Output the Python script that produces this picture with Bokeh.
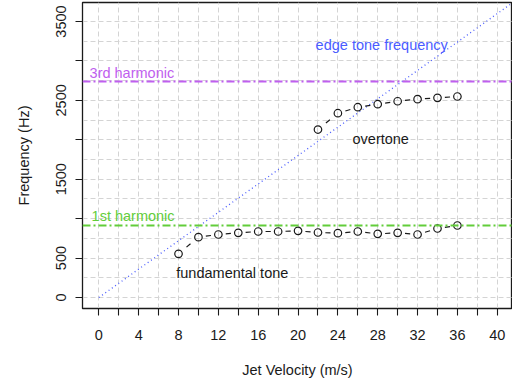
import math
from bokeh.plotting import figure
from bokeh.models import (Range1d, SingleIntervalTicker, Span, Label, ColumnDataSource)
from bokeh.embed import file_html
from bokeh.resources import INLINE

# ---- data ----
fund_velocity = [8, 10, 12, 14, 16, 18, 20, 22, 24, 26, 28, 30, 32, 34, 36]
fund_freq = [554, 765, 799, 820, 837, 837, 845, 824, 816, 837, 807, 820, 799, 875, 913]
over_velocity = [22, 24, 26, 28, 30, 32, 34, 36]
over_freq = [2130, 2337, 2413, 2451, 2489, 2515, 2532, 2549]
edge_velocity = [0, 42]
edge_freq = [0, 3780]
first_harmonic = 913
third_harmonic = 2739
x_tick_labels = {v: (str(v) if v % 4 == 0 else "") for v in range(0, 42, 2)}
y_tick_labels = {v: (str(v) if v % 1000 == 500 or v == 0 else "") for v in range(0, 4000, 500)}

FONT = "Liberation Sans"
FS = "14.5px"
PURPLE = "#BF5FEF"
GREEN = "#62CD3A"
BLUE = "#4A5CFF"
INK = "#1a1a1a"

X0, X1 = -1.64, 41.53
Y0, Y1 = -139.5, 3741.0
FW, FH = 430, 306

p = figure(width=512, height=382, output_backend="svg", toolbar_location=None,
           x_range=Range1d(X0, X1), y_range=Range1d(Y0, Y1),
           min_border_left=82, min_border_right=0, min_border_top=2, min_border_bottom=74)
p.background_fill_color = "white"
p.border_fill_color = "white"
p.outline_line_color = INK
p.outline_line_width = 1.3

# axes
p.xaxis.ticker = SingleIntervalTicker(interval=2)
p.yaxis.ticker = SingleIntervalTicker(interval=500)
p.xaxis.major_label_overrides = x_tick_labels
p.yaxis.major_label_overrides = y_tick_labels
p.yaxis.major_label_orientation = "parallel"
for ax in (p.xaxis[0], p.yaxis[0]):
    ax.major_tick_out = 7
    ax.major_tick_in = 0
    ax.minor_tick_out = 0
    ax.minor_tick_in = 0
    ax.axis_line_color = INK
    ax.major_tick_line_color = INK
    ax.major_tick_line_width = 1.1
    ax.major_label_text_font = FONT
    ax.major_label_text_font_size = FS
    ax.major_label_text_color = INK
    ax.axis_label_text_font = FONT
    ax.axis_label_text_font_size = FS
    ax.axis_label_text_font_style = "normal"
    ax.axis_label_text_color = INK
p.xaxis.axis_label = "Jet Velocity (m/s)"
p.yaxis.axis_label = "Frequency (Hz)"
p.xaxis.major_label_standoff = 14
p.xaxis.axis_label_standoff = 19
p.yaxis.major_label_standoff = 9
p.yaxis.axis_label_standoff = 22

# grid
p.xgrid.ticker = SingleIntervalTicker(interval=2)
p.ygrid.ticker = SingleIntervalTicker(interval=250)
for g in (p.xgrid[0], p.ygrid[0]):
    g.grid_line_color = "#d4d4d4"
    g.grid_line_dash = "5 3"
    g.grid_line_width = 1

# harmonic lines
p.add_layout(Span(location=third_harmonic, dimension="width", line_color=PURPLE,
                  line_width=2, line_dash="8 3 2 3"))
p.add_layout(Span(location=first_harmonic, dimension="width", line_color=GREEN,
                  line_width=2, line_dash="8 3 2 3"))

# edge tone line
p.line(edge_velocity, edge_freq, line_color=BLUE, line_width=1.3, line_dash="1 3")

# "b" type connecting dashes: short dash centred between consecutive points
sx = FW / (X1 - X0)
sy = FH / (Y1 - Y0)
HALF = 2.6

def mid_dashes(xs, ys):
    x0s, y0s, x1s, y1s = [], [], [], []
    for i in range(len(xs) - 1):
        dx = xs[i + 1] - xs[i]
        dy = ys[i + 1] - ys[i]
        dist = math.hypot(dx * sx, dy * sy)
        f = HALF / dist
        xm = (xs[i] + xs[i + 1]) / 2
        ym = (ys[i] + ys[i + 1]) / 2
        x0s.append(xm - f * dx); x1s.append(xm + f * dx)
        y0s.append(ym - f * dy); y1s.append(ym + f * dy)
    return dict(x0=x0s, y0=y0s, x1=x1s, y1=y1s)

for xs, ys in ((fund_velocity, fund_freq), (over_velocity, over_freq)):
    p.segment(x0="x0", y0="y0", x1="x1", y1="y1", source=ColumnDataSource(mid_dashes(xs, ys)),
              line_color=INK, line_width=1.2)
    p.scatter(xs, ys, marker="circle", size=7.5, fill_color=None, line_color=INK, line_width=1.2)

# annotations
def lab(x, y, text, color, align="center"):
    p.add_layout(Label(x=x, y=y, text=text, text_color=color, text_font=FONT,
                       text_font_size=FS, text_align=align, text_baseline="middle"))

lab(28.4, 3208, "edge tone frequency", BLUE)
lab(28.3, 2012, "overtone", INK)
lab(13.4, 313, "fundamental tone", INK)
lab(-0.93, 2853, "3rd harmonic", PURPLE, "left")
lab(-0.73, 1031, "1st harmonic", GREEN, "left")

open("out.html", "w").write(file_html(p, INLINE))
